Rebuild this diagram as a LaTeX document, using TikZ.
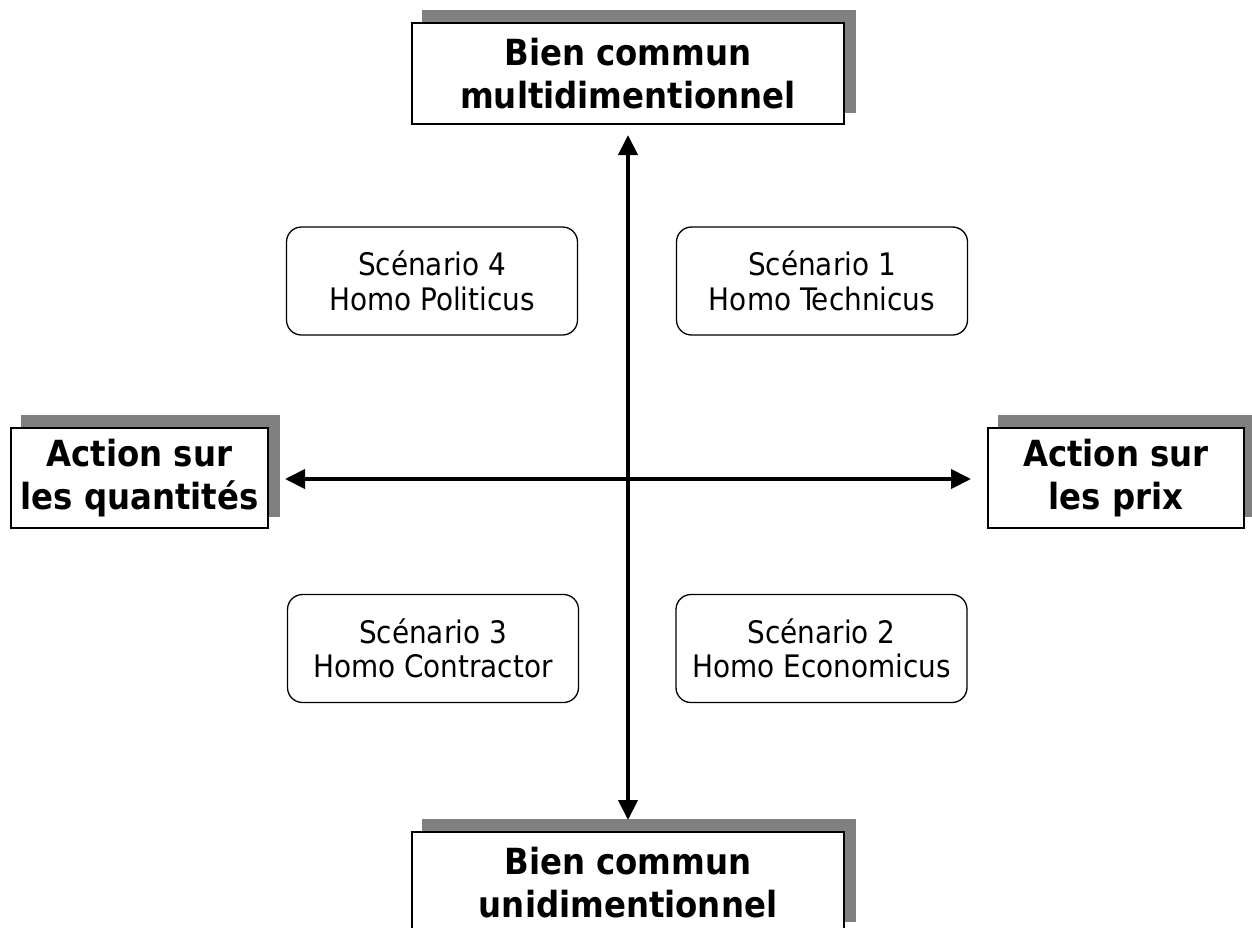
\documentclass[tikz,border=0pt]{standalone}
\usepackage{fontspec}
\setmainfont{DejaVu Sans Condensed}
\usetikzlibrary{arrows.meta}
\definecolor{shadowgray}{HTML}{808080}
\tikzset{
  x=1pt, y=-1pt,
  headbox/.style={draw=black, line width=1.6pt, fill=white, align=center,
    inner sep=0pt, font=\bfseries\fontsize{36}{42.5}\selectfont},
  scenbox/.style={draw=black, line width=1.3pt, fill=white, rounded corners=15pt,
    align=center, inner sep=0pt, minimum width=291pt, minimum height=108pt,
    font=\fontsize{31}{34.5}\selectfont},
  axis/.style={line width=4pt, {Triangle[length=20pt,width=19pt]}-{Triangle[length=20pt,width=19pt]}},
}
\newcommand{\shadowof}[1]{%
  \fill[shadowgray] ([shift={(11,-12)}]#1.south west) rectangle ([shift={(11,-12)}]#1.north east);}
\begin{document}
\begin{tikzpicture}
\useasboundingbox (0,0) rectangle (1252,927);
\clip (0,0) rectangle (1252,927);
% header box frames (invisible, to get the anchors for the shadows)
\path
  node[headbox, draw=none, fill=none, text opacity=0, minimum width=432pt, minimum height=101pt] (tp0) at (628,73.5) {}
  node[headbox, draw=none, fill=none, text opacity=0, minimum width=257pt, minimum height=100pt] (lf0) at (139.5,478) {}
  node[headbox, draw=none, fill=none, text opacity=0, minimum width=256pt, minimum height=100pt] (rt0) at (1116,478) {}
  node[headbox, draw=none, fill=none, text opacity=0, minimum width=432pt, minimum height=101pt] (bt0) at (628,882.5) {};
\shadowof{tp0}
\shadowof{lf0}
\shadowof{rt0}
\shadowof{bt0}
\node[headbox, minimum width=432pt, minimum height=101pt] (top) at (628,73.5) {Bien commun\\multidimentionnel};
\node[headbox, minimum width=257pt, minimum height=100pt] (left) at (139.5,478) {Action sur\\les quantités};
\node[headbox, minimum width=256pt, minimum height=100pt] (right) at (1116,478) {Action sur\\les prix};
\node[headbox, minimum width=432pt, minimum height=101pt] (bottom) at (628,882.5) {Bien commun\\unidimentionnel};
% scenarios
\node[scenbox] (s4) at (432,281) {Scénario 4\\Homo Politicus};
\node[scenbox] (s1) at (822,281) {Scénario 1\\Homo Technicus};
\node[scenbox] (s3) at (433,648.5) {Scénario 3\\Homo Contractor};
\node[scenbox] (s2) at (821.5,648.5) {Scénario 2\\Homo Economicus};
% axes
\coordinate (xl) at (285,479);
\coordinate (xr) at (971,479);
\coordinate (yt) at (628,135);
\coordinate (yb) at (628,820);
\draw[axis] (xl) -- (xr);
\draw[axis] (yt) -- (yb);
\end{tikzpicture}
\end{document}
